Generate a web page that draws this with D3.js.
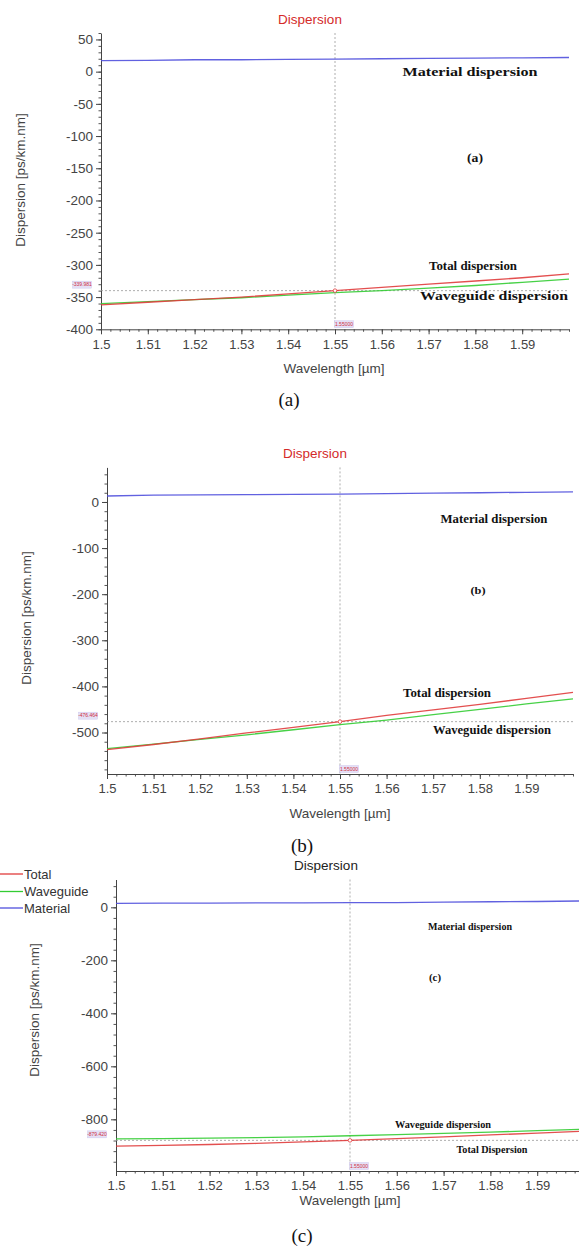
<!DOCTYPE html>
<html>
<head>
<meta charset="utf-8">
<script src="https://cdn.jsdelivr.net/npm/d3@7.9.0/dist/d3.min.js"></script>
<style>
  body { margin: 0; background: #fff; }
  svg { display: block; }
  .tick text { font-family: "Liberation Sans", Arial, sans-serif; fill: #444; }
</style>
</head>
<body>
<svg id="chart" width="579" height="1251"></svg>
<script>
// wavelength grid (µm) shared by all three panels
const wavelengths = [1.5, 1.51, 1.52, 1.53, 1.54, 1.55, 1.56, 1.57, 1.58, 1.59, 1.6];
const xTicks = [1.5, 1.51, 1.52, 1.53, 1.54, 1.55, 1.56, 1.57, 1.58, 1.59];

// panel (a)
const totalA     = [-362, -358, -354, -350, -345, -339.981, -335, -330, -325, -320, -314];
const waveguideA = [-360, -357, -354, -351, -347, -343, -340, -336, -332, -327, -322];
const materialA  = [17, 17.5, 18.5, 18.5, 19, 19.5, 20, 20.5, 21, 21.5, 22];
const yTicksA = [50, 0, -50, -100, -150, -200, -250, -300, -350, -400];

// panel (b)
const totalB     = [-537, -526, -514, -501, -489, -476.464, -463, -451, -439, -426, -413];
const waveguideB = [-535, -525, -515, -505, -494, -483, -473, -461, -450, -438, -427];
const materialB  = [13, 15, 15.5, 16, 16.5, 17, 18, 19, 20, 21, 22];
const yTicksB = [0, -100, -200, -300, -400, -500];

// panel (c)
const totalC     = [-901, -898, -895, -891, -885, -879.42, -873, -866, -859, -852, -845];
const waveguideC = [-874, -873, -871, -869, -866, -862, -858, -853, -848, -843, -837];
const materialC  = [15, 15.5, 16, 16.5, 17, 17.5, 18, 20, 21, 22, 24];
const yTicksC = [0, -200, -400, -600, -800];

const cursorX = 1.55;
const colors = { total: "#e03c3c", waveguide: "#33cc33", material: "#5050dd" };

const panels = [
  {
    total: totalA, waveguide: waveguideA, material: materialA, yTicks: yTicksA, yMinor: 10,
    yDomain: [-400, 60], xRange: [101, 569], yRange: [329.3, 33],
    title: { x: 310, y: 24, color: "#d42a2a" },
    xLabel: { x: 334, y: 373 }, yLabel: { x: 25, y: 180 },
    yValLabel: "-339.981", caption: { text: "(a)", x: 289, y: 406 },
    notes: [
      ["Material dispersion", 470, 76, 13, 135],
      ["(a)", 475, 162, 12, 16],
      ["Total dispersion", 473, 270, 12.5, 88],
      ["Waveguide dispersion", 494, 300, 12.5, 148]
    ]
  },
  {
    total: totalB, waveguide: waveguideB, material: materialB, yTicks: yTicksB, yMinor: 20,
    yDomain: [-590, 75], xRange: [107, 573], yRange: [774, 467.4],
    title: { x: 315, y: 458, color: "#d42a2a" },
    xLabel: { x: 340, y: 818 }, yLabel: { x: 31, y: 618 },
    yValLabel: "-476.464", caption: { text: "(b)", x: 302, y: 852 },
    notes: [
      ["Material dispersion", 494, 523, 11.5, 107],
      ["(b)", 478, 594, 11, 15],
      ["Total dispersion", 447, 697, 12, 88],
      ["Waveguide dispersion", 492, 734, 12, 118]
    ]
  },
  {
    total: totalC, waveguide: waveguideC, material: materialC, yTicks: yTicksC, yMinor: 40,
    yDomain: [-995, 105], xRange: [116, 584], yRange: [1171, 879.5],
    title: { x: 326, y: 870, color: "#222" },
    xLabel: { x: 350, y: 1205 }, yLabel: { x: 39, y: 1010 },
    yValLabel: "-879.420", caption: { text: "(c)", x: 302, y: 1242 },
    legend: true,
    notes: [
      ["Material dispersion", 470, 930, 9.5, 84],
      ["(c)", 435, 981, 9.5, 12],
      ["Waveguide dispersion", 443, 1128, 10, 96],
      ["Total Dispersion", 492, 1153, 10, 71]
    ]
  }
];

const svg = d3.select("#chart");
const sans = '"Liberation Sans", Arial, sans-serif';
const serif = '"Liberation Serif", "Times New Roman", serif';

panels.forEach((p, pi) => {
  const g = svg.append("g");
  const x = d3.scaleLinear().domain([1.5, 1.6]).range(p.xRange);
  const y = d3.scaleLinear().domain(p.yDomain).range(p.yRange);
  const [x0, x1] = p.xRange;
  const [yb, yt] = p.yRange;

  // minor ticks
  const xMinor = d3.range(1.5, 1.6001, 0.002).map(v => +v.toFixed(3));
  const yMinorVals = d3.range(Math.ceil(p.yDomain[0] / p.yMinor) * p.yMinor, p.yDomain[1] + 0.001, p.yMinor);
  g.append("g").attr("transform", `translate(0,${yb})`)
    .call(d3.axisBottom(x).tickValues(xMinor).tickSize(2.5).tickFormat(""))
    .call(a => a.select(".domain").remove())
    .selectAll("line").attr("stroke", "#555");
  g.append("g").attr("transform", `translate(${x0},0)`)
    .call(d3.axisLeft(y).tickValues(yMinorVals).tickSize(2.5).tickFormat(""))
    .call(a => a.select(".domain").remove())
    .selectAll("line").attr("stroke", "#555");

  // major axes (plain hyphen for negatives, like the original)
  g.append("g").attr("transform", `translate(0,${yb})`)
    .call(d3.axisBottom(x).tickValues(xTicks).tickSize(5).tickSizeOuter(0).tickPadding(5).tickFormat(d => String(d)))
    .call(a => a.select(".domain").attr("stroke", "#444"))
    .call(a => a.selectAll("line").attr("stroke", "#444"))
    .call(a => a.selectAll("text").attr("font-size", 13));
  g.append("g").attr("transform", `translate(${x0},0)`)
    .call(d3.axisLeft(y).tickValues(p.yTicks).tickSize(5).tickSizeOuter(0).tickPadding(3).tickFormat(d => String(d)))
    .call(a => a.select(".domain").attr("stroke", "#444"))
    .call(a => a.selectAll("line").attr("stroke", "#444"))
    .call(a => a.selectAll("text").attr("font-size", 13.5));

  // crosshair
  const cy = y(p.total[wavelengths.indexOf(cursorX)]);
  g.append("line").attr("x1", x(cursorX)).attr("x2", x(cursorX)).attr("y1", yt).attr("y2", yb)
    .attr("stroke", "#999").attr("stroke-width", 0.8).attr("stroke-dasharray", "2,2");
  g.append("line").attr("x1", x0).attr("x2", Math.min(x1, 579)).attr("y1", cy).attr("y2", cy)
    .attr("stroke", "#999").attr("stroke-width", 0.8).attr("stroke-dasharray", "2,2");

  // series
  const line = d3.line().x((d, i) => x(wavelengths[i])).y(d => y(d));
  [["material", p.material], ["waveguide", p.waveguide], ["total", p.total]].forEach(([k, vals]) => {
    g.append("path").datum(vals).attr("d", line).attr("fill", "none")
      .attr("stroke", colors[k]).attr("stroke-width", 1.3).attr("stroke-opacity", 0.9);
  });
  g.append("circle").attr("cx", x(cursorX)).attr("cy", cy).attr("r", 1.8)
    .attr("fill", "#fff").attr("stroke", colors.total).attr("stroke-width", 0.8);

  // crosshair value boxes
  const box = (cx, cyy, txt) => {
    g.append("rect").attr("x", cx - 9.5).attr("y", cyy - 3.5).attr("width", 19).attr("height", 7)
      .attr("fill", "#e4e0f6").attr("stroke", "#c8c0ea").attr("stroke-width", 0.4);
    g.append("text").attr("x", cx).attr("y", cyy + 1.8).attr("text-anchor", "middle")
      .attr("font-family", sans).attr("font-size", 5).attr("fill", "#d03040").text(txt);
  };
  box(x0 - 19, cy - 6, p.yValLabel);
  box(x(cursorX) + 9, yb - 5, "1.55000");

  // titles
  g.append("text").attr("x", p.title.x).attr("y", p.title.y).attr("text-anchor", "middle")
    .attr("font-family", sans).attr("font-size", 13.5).attr("fill", p.title.color).text("Dispersion");
  g.append("text").attr("x", p.xLabel.x).attr("y", p.xLabel.y).attr("text-anchor", "middle")
    .attr("font-family", sans).attr("font-size", 13.5).attr("fill", "#444").text("Wavelength [µm]");
  g.append("text").attr("transform", `translate(${p.yLabel.x},${p.yLabel.y}) rotate(-90)`)
    .attr("text-anchor", "middle").attr("font-family", sans).attr("font-size", 13.5)
    .attr("fill", "#444").text("Dispersion [ps/km.nm]");

  // annotations
  p.notes.forEach(([t, nx, ny, fs, w]) => {
    g.append("text").attr("x", nx).attr("y", ny).attr("text-anchor", "middle")
      .attr("font-family", serif).attr("font-weight", "bold").attr("font-size", fs)
      .attr("textLength", w).attr("lengthAdjust", "spacingAndGlyphs").attr("fill", "#111").text(t);
  });

  // figure caption
  svg.append("text").attr("x", p.caption.x).attr("y", p.caption.y).attr("text-anchor", "middle")
    .attr("font-family", serif).attr("font-size", 19).attr("fill", "#111").text(p.caption.text);

  if (p.legend) {
    const items = [["Total", colors.total, 874], ["Waveguide", colors.waveguide, 891.5], ["Material", colors.material, 908]];
    items.forEach(([t, c, ly]) => {
      g.append("line").attr("x1", 0).attr("x2", 23).attr("y1", ly).attr("y2", ly)
        .attr("stroke", c).attr("stroke-width", 1.3);
      g.append("text").attr("x", 24).attr("y", ly + 4.5).attr("font-family", sans)
        .attr("font-size", 13).attr("fill", "#333").text(t);
    });
  }
});
</script>
</body>
</html>
